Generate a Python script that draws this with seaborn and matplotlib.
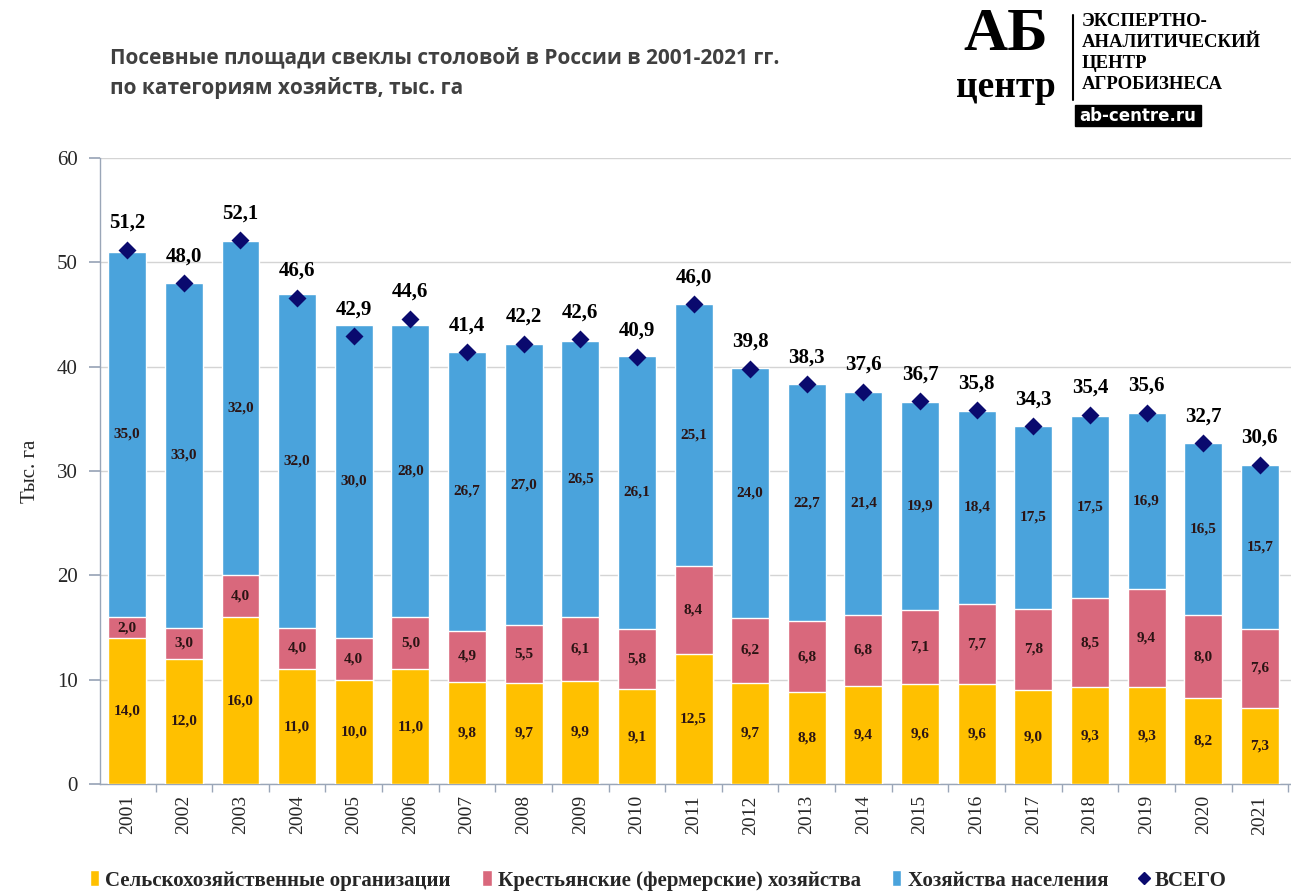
import numpy as np
import pandas as pd
import matplotlib
matplotlib.use("Agg")
import matplotlib.pyplot as plt
from matplotlib.lines import Line2D
from matplotlib.patches import Patch, Rectangle
from matplotlib.ticker import FixedLocator
import seaborn as sns

years = [str(y) for y in range(2001, 2022)]
agro = [14.0, 12.0, 16.0, 11.0, 10.0, 11.0, 9.8, 9.7, 9.9, 9.1, 12.5, 9.7, 8.8, 9.4, 9.6, 9.6, 9.0, 9.3, 9.3, 8.2, 7.3]
farm = [2.0, 3.0, 4.0, 4.0, 4.0, 5.0, 4.9, 5.5, 6.1, 5.8, 8.4, 6.2, 6.8, 6.8, 7.1, 7.7, 7.8, 8.5, 9.4, 8.0, 7.6]
house = [35.0, 33.0, 32.0, 32.0, 30.0, 28.0, 26.7, 27.0, 26.5, 26.1, 25.1, 24.0, 22.7, 21.4, 19.9, 18.4, 17.5, 17.5, 16.9, 16.5, 15.7]
total = [51.2, 48.0, 52.1, 46.6, 42.9, 44.6, 41.4, 42.2, 42.6, 40.9, 46.0, 39.8, 38.3, 37.6, 36.7, 35.8, 34.3, 35.4, 35.6, 32.7, 30.6]
series_names = ["Сельскохозяйственные организации", "Крестьянские (фермерские) хозяйства", "Хозяйства населения", "ВСЕГО"]
yticks = [0, 10, 20, 30, 40, 50, 60]

C_AGRO = "#FFC000"
C_FARM = "#D9687C"
C_HOUSE = "#4AA3DC"
C_TOT = "#0A0A6E"
SERIF = ["Liberation Serif", "DejaVu Serif"]

sns.set_theme(style="white")
plt.rcParams["font.family"] = ["Liberation Serif", "DejaVu Serif"]

df = pd.DataFrame({"year": years, "agro": agro, "farm": farm, "house": house, "total": total})
df["c1"] = df["agro"]
df["c2"] = df["agro"] + df["farm"]
df["c3"] = df["c2"] + df["house"]

fig = plt.figure(figsize=(12.91, 8.92), dpi=100)
ax = fig.add_axes([0.0775, 0.121, 0.9225, 0.702])

W = 0.67
sns.barplot(data=df, x="year", y="c3", color=C_HOUSE, saturation=1, width=W, ax=ax, zorder=2)
sns.barplot(data=df, x="year", y="c2", color=C_FARM, saturation=1, width=W, ax=ax, zorder=3)
sns.barplot(data=df, x="year", y="c1", color=C_AGRO, saturation=1, width=W, ax=ax, zorder=4)
sns.pointplot(data=df, x="year", y="total", color=C_TOT, marker="D", linestyle="none",
              markersize=7, ax=ax, zorder=6)

def fmt(v):
    return f"{v:.1f}".replace(".", ",")

lab_col = "#2b1414"
for i in range(len(years)):
    ax.text(i, agro[i] / 2, fmt(agro[i]), ha="center", va="center", fontsize=11,
            fontweight="bold", color=lab_col, zorder=7)
    ax.text(i, agro[i] + farm[i] / 2, fmt(farm[i]), ha="center", va="center", fontsize=11,
            fontweight="bold", color=lab_col, zorder=7)
    ax.text(i, agro[i] + farm[i] + house[i] / 2, fmt(house[i]), ha="center", va="center",
            fontsize=11, fontweight="bold", color=lab_col, zorder=7)
    ax.annotate(fmt(total[i]), (i, total[i]), xytext=(0, 12), textcoords="offset points",
                ha="center", va="bottom", fontsize=15, fontweight="bold", color="black", zorder=7)

ax.set_ylim(0, 60)
ax.set_xlim(-0.48, len(years) - 0.45)
ax.set_yticks(yticks)
ax.set_yticklabels([str(t) for t in yticks], fontsize=15)
ax.xaxis.set_minor_locator(FixedLocator(np.arange(-0.5, len(years), 1.0)))
ax.tick_params(axis="x", which="major", labelrotation=90, labelsize=14, length=0, pad=8)
ax.tick_params(axis="x", which="minor", length=6, color="#9aa6b8", direction="out", bottom=True)
ax.tick_params(axis="y", length=8, color="#9aa6b8", direction="out", left=True, pad=8)
ax.yaxis.grid(True, color="#d4d4d4", linewidth=1)
ax.set_axisbelow(True)
ax.set_xlabel("")
ax.set_ylabel("Тыс. га", fontsize=15, labelpad=12)
for s in ["top", "right"]:
    ax.spines[s].set_visible(False)
for s in ["left", "bottom"]:
    ax.spines[s].set_color("#9aa6b8")
    ax.spines[s].set_linewidth(1)

# title
fig.text(0.085, 0.935, "Посевные площади свеклы столовой в России в 2001-2021 гг.",
         fontsize=15, fontweight="bold", color="#404040", family=["Open Sans", "DejaVu Sans"], va="center")
fig.text(0.085, 0.901, "по категориям хозяйств, тыс. га",
         fontsize=15, fontweight="bold", color="#404040", family=["Open Sans", "DejaVu Sans"], va="center")

# logo
fig.text(0.779, 0.961, "АБ", fontsize=44, fontweight="bold", family=SERIF, color="black",
         ha="center", va="center")
fig.text(0.779, 0.902, "центр", fontsize=27, fontweight="bold", family=SERIF, color="black",
         ha="center", va="center")
fig.add_artist(Line2D([0.831, 0.831], [0.888, 0.983], transform=fig.transFigure, color="black", lw=1.5))
for k, line in enumerate(["ЭКСПЕРТНО-", "АНАЛИТИЧЕСКИЙ", "ЦЕНТР", "АГРОБИЗНЕСА"]):
    fig.text(0.838, 0.976 - k * 0.0235, line, fontsize=13.5, fontweight="bold", family=SERIF,
             color="black", va="center")
fig.add_artist(Rectangle((0.833, 0.859), 0.097, 0.023, transform=fig.transFigure, color="black"))
fig.text(0.8815, 0.8705, "ab-centre.ru", fontsize=12, fontweight="bold", color="white",
         family=["DejaVu Sans"], ha="center", va="center")

handles = [Patch(facecolor=C_AGRO), Patch(facecolor=C_FARM), Patch(facecolor=C_HOUSE),
           Line2D([], [], color=C_TOT, marker="D", linestyle="none", markersize=6)]
fig.legend(handles, series_names, loc="center", bbox_to_anchor=(0.51, 0.013), ncol=4, frameon=False,
           prop={"family": SERIF, "size": 15, "weight": "bold"}, handlelength=0.45, handleheight=0.8,
           handletextpad=0.3, columnspacing=1.5)

fig.savefig("out.png", dpi=100)
